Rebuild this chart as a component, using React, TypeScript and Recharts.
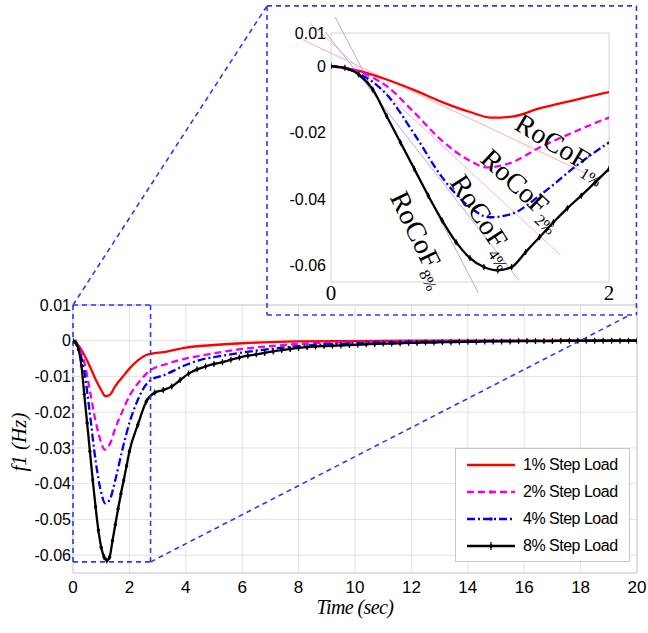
import React from 'react';
import {
  LineChart,
  Line,
  XAxis,
  YAxis,
  CartesianGrid,
  ReferenceLine,
  ReferenceArea,
  ReferenceDot,
  Legend,
} from 'recharts';

// axis ticks
const mainXTicks = [0, 2, 4, 6, 8, 10, 12, 14, 16, 18, 20];
const mainYTicks = [0.01, 0, -0.01, -0.02, -0.03, -0.04, -0.05, -0.06];
const insetXTicks = [0, 2];
const insetYTicks = [0.01, 0, -0.02, -0.04, -0.06];

const seriesNames = ['1% Step Load', '2% Step Load', '4% Step Load', '8% Step Load'];

// frequency deviation f1 (Hz) vs time (sec)
const redTime = [0, 0.2, 0.4, 0.6, 0.8, 1.0, 1.15, 1.3, 1.5, 1.75, 2.0, 2.3, 2.6, 2.8, 3.2, 4, 5, 6, 7, 8, 10, 12, 20];
const redValues = [0, -0.0014, -0.0040, -0.0072, -0.0108, -0.0138, -0.0155, -0.0152, -0.0127, -0.0102, -0.0078, -0.0055, -0.0040, -0.0036, -0.0032, -0.0019, -0.0012, -0.0007, -0.0004, -0.0002, -0.0001, 0, 0];

const magentaTime = [0, 0.2, 0.4, 0.6, 0.8, 1.0, 1.12, 1.3, 1.5, 1.75, 2.0, 2.4, 2.75, 3.2, 4, 4.5, 5, 6, 7, 8, 10, 12, 20];
const magentaValues = [0, -0.0016, -0.0060, -0.0140, -0.0225, -0.0285, -0.0305, -0.0290, -0.0245, -0.0198, -0.0155, -0.0110, -0.0082, -0.0068, -0.0050, -0.0042, -0.0035, -0.0023, -0.0015, -0.0009, -0.0004, -0.0001, 0];

const blueTime = [0, 0.2, 0.4, 0.6, 0.8, 1.0, 1.14, 1.3, 1.5, 1.75, 2.0, 2.3, 2.6, 2.8, 3.2, 4, 4.5, 5, 6, 7, 8, 10, 12, 14, 20];
const blueValues = [0, -0.0022, -0.0085, -0.0205, -0.0335, -0.0425, -0.0455, -0.0445, -0.0390, -0.0305, -0.0230, -0.0165, -0.0122, -0.0108, -0.0097, -0.0068, -0.0054, -0.0046, -0.0033, -0.0023, -0.0015, -0.0007, -0.0003, -0.0001, 0];

const blackTime = [
  0, 0.1, 0.2, 0.3, 0.4, 0.5, 0.6, 0.7, 0.8, 0.9, 1.0, 1.1, 1.2, 1.3, 1.4, 1.5, 1.6, 1.7, 1.8, 1.9, 2.0,
  2.3, 2.6, 2.9, 3.2, 3.5, 3.8, 4.1, 4.4, 4.7, 5.0, 5.3, 5.6, 5.9, 6.2, 6.5, 6.8, 7.1, 7.4, 7.7, 8.0,
  8.3, 8.6, 8.9, 9.2, 9.5, 9.8, 10.1, 10.4, 10.7, 11.0, 11.3, 11.6, 11.9, 12.2, 12.5, 12.8, 13.1, 13.4, 13.7, 14.0,
  14.3, 14.6, 14.9, 15.2, 15.5, 15.8, 16.1, 16.4, 16.7, 17.0, 17.3, 17.6, 17.9, 18.2, 18.5, 18.8, 19.1, 19.4, 19.7, 20.0,
];
const blackValues = [
  0, -0.0005, -0.0025, -0.0070, -0.0150, -0.0230, -0.0310, -0.0390, -0.0465, -0.0530, -0.0578, -0.0605, -0.0615, -0.0605, -0.0560, -0.0515, -0.0470, -0.0428, -0.0390, -0.0350, -0.0310,
  -0.0235, -0.0170, -0.0145, -0.0138, -0.0128, -0.0110, -0.0092, -0.0080, -0.0072, -0.0065, -0.0060, -0.0053, -0.0047, -0.0042, -0.0038, -0.0034, -0.0030, -0.0026, -0.0023, -0.0020,
  -0.0018, -0.0016, -0.0015, -0.0014, -0.0013, -0.0012, -0.0011, -0.0010, -0.0009, -0.0008, -0.0008, -0.0007, -0.0006, -0.0006, -0.0005, -0.0005, -0.0004, -0.0004, -0.0003, -0.0003,
  -0.0003, -0.0002, -0.0002, -0.0002, -0.0002, -0.0001, -0.0001, -0.0001, -0.0001, -0.0001, 0, 0, 0, 0, 0, 0, 0, 0, 0, 0,
];

// RoCoF tangent lines in the zoomed view: [x1, y1, x2, y2]
const rocofLines = [
  [-0.2, 0.0079, 1.83, -0.0322],
  [-0.15, 0.013, 1.65, -0.0569],
  [-0.04, 0.0103, 1.35, -0.0644],
  [0.03, 0.0148, 1.06, -0.0683],
];
const rocofSubs = ['1%', '2%', '4%', '8%'];
const rocofLabelAt = [
  [1.31, -0.0188],
  [1.065, -0.0285],
  [0.85, -0.0350],
  [0.42, -0.0395],
];

const colors = ['#ff0000', '#ee00ee', '#0000ee', '#000000'];
const dashes = [undefined, '7 4', '8 3 2 3', undefined];
const tangentColors = ['#f7b0b0', '#f2b0f2', '#b0b0f4', '#b4b4b4'];
const labelAngles = [31, 43, 57, 64];

const zip = (t: number[], v: number[]) => t.map((x, i) => ({ t: x, v: v[i] }));
const series = [
  zip(redTime, redValues),
  zip(magentaTime, magentaValues),
  zip(blueTime, blueValues),
  zip(blackTime, blackValues),
];

const fmtY = (v: number) => (Math.abs(v) < 1e-9 ? '0' : v.toFixed(2));

const MarkDot = (props: any) => {
  const { cx, cy, index } = props;
  if (cx == null || cy == null) return <g key={`e${index}`} />;
  return (
    <g key={`d${index}`}>
      <line x1={cx} x2={cx} y1={cy - 3} y2={cy + 3} stroke="#000" strokeWidth={1.2} />
      <circle cx={cx} cy={cy} r={1.7} fill="#000" />
    </g>
  );
};

const narrow = "'Liberation Sans Narrow', 'Liberation Sans', Arial, sans-serif";
const serif = "'Liberation Serif', 'Times New Roman', serif";
const zoomBlue = '#2d3ce8';

const LegendBox = () => (
  <div
    style={{
      width: 175,
      height: 114,
      border: '1px solid #c8c8c8',
      background: '#fff',
      boxSizing: 'border-box',
      paddingTop: 2,
      fontFamily: "'Liberation Sans', Arial, sans-serif",
      fontSize: 16,
      letterSpacing: -0.5,
      color: '#000',
    }}
  >
    {seriesNames.map((name, i) => (
      <div key={name} style={{ display: 'flex', alignItems: 'center', height: 27 }}>
        <svg width={67} height={12} style={{ flex: 'none' }}>
          <line x1={11} x2={59} y1={6} y2={6} stroke={colors[i]} strokeWidth={2.4} strokeDasharray={dashes[i]} />
          {i > 0 && <circle cx={35} cy={6} r={1.8} fill={colors[i]} />}
          {i === 3 && <line x1={35} x2={35} y1={2} y2={10} stroke="#000" strokeWidth={1.2} />}
        </svg>
        <span>{name}</span>
      </div>
    ))}
  </div>
);

const dashed = { stroke: zoomBlue, strokeWidth: 1.6, strokeDasharray: '5 4', ifOverflow: 'visible' as const };

export default function App() {
  return (
    <div style={{ position: 'absolute', left: 0, top: 0, width: 648, height: 633, background: '#fff' }}>
      <div style={{ position: 'absolute', left: 0, top: 0 }}>
        <LineChart width={648} height={633} margin={{ top: 305, right: 11, bottom: 30, left: 0 }}>
          <CartesianGrid stroke="#e2e2e2" strokeWidth={1} />
          <XAxis
            dataKey="t"
            type="number"
            domain={[0, 20]}
            ticks={mainXTicks}
            allowDataOverflow
            axisLine={false}
            tickLine={false}
            tickSize={0}
            tickMargin={8}
            height={30}
            tick={{ fontSize: 17, fill: '#000', fontFamily: "'Liberation Sans', Arial, sans-serif" }}
          />
          <YAxis
            type="number"
            domain={[-0.065, 0.01]}
            ticks={mainYTicks}
            allowDataOverflow
            axisLine={false}
            tickLine={false}
            tickSize={0}
            tickMargin={2}
            width={73}
            tickFormatter={fmtY}
            tick={{ fontSize: 16, fill: '#000', fontFamily: narrow }}
          />
          <ReferenceArea x1={0} x2={20} y1={-0.065} y2={0.01} fill="none" stroke="#cfcfcf" strokeWidth={1} />
          {series.map((d, i) => (
            <Line
              key={seriesNames[i]}
              data={d}
              dataKey="v"
              name={seriesNames[i]}
              type="monotone"
              stroke={colors[i]}
              strokeWidth={2.3}
              strokeDasharray={dashes[i]}
              dot={i === 3 ? MarkDot : false}
              activeDot={false}
              isAnimationActive={false}
            />
          ))}
          {/* zoom window and connectors */}
          <ReferenceLine segment={[{ x: 0, y: 0.01 }, { x: 2.75, y: 0.01 }]} {...dashed} />
          <ReferenceLine segment={[{ x: 2.75, y: 0.01 }, { x: 2.75, y: -0.0619 }]} {...dashed} />
          <ReferenceLine segment={[{ x: 0, y: -0.0619 }, { x: 2.75, y: -0.0619 }]} {...dashed} />
          <ReferenceLine segment={[{ x: 0, y: 0.01 }, { x: 0, y: -0.0619 }]} {...dashed} />
          <ReferenceLine segment={[{ x: 0, y: 0.01 }, { x: 6.88, y: 0.0937 }]} {...dashed} />
          <ReferenceLine segment={[{ x: 2.75, y: -0.0619 }, { x: 19.75, y: 0.0072 }]} {...dashed} />
          {/* inset frame */}
          <ReferenceLine segment={[{ x: 6.88, y: 0.0937 }, { x: 19.98, y: 0.0937 }]} {...dashed} />
          <ReferenceLine segment={[{ x: 19.98, y: 0.0937 }, { x: 19.98, y: 0.0072 }]} {...dashed} />
          <ReferenceLine segment={[{ x: 6.88, y: 0.0072 }, { x: 19.98, y: 0.0072 }]} {...dashed} />
          <ReferenceLine segment={[{ x: 6.88, y: 0.0937 }, { x: 6.88, y: 0.0072 }]} {...dashed} />
          <Legend
            layout="horizontal"
            verticalAlign="middle"
            align="center"
            content={() => <LegendBox />}
            wrapperStyle={{ position: 'absolute', left: 455, top: 448, width: 175, height: 114 }}
          />
        </LineChart>
      </div>

      {/* zoomed view of the first 2 s */}
      <div style={{ position: 'absolute', left: 268, top: 6 }}>
        <LineChart width={369} height={309} margin={{ top: 27, right: 28, bottom: 3, left: 0 }}>
          <XAxis
            dataKey="t"
            type="number"
            domain={[0, 2]}
            ticks={insetXTicks}
            allowDataOverflow
            axisLine={false}
            tickLine={false}
            tickSize={0}
            tickMargin={3}
            height={30}
            tick={{ fontSize: 21, fill: '#000', fontFamily: serif }}
          />
          <YAxis
            type="number"
            domain={[-0.065, 0.01]}
            ticks={insetYTicks}
            allowDataOverflow
            axisLine={false}
            tickLine={false}
            tickSize={0}
            tickMargin={5}
            width={63}
            tickFormatter={fmtY}
            tick={{ fontSize: 16, fill: '#000', fontFamily: narrow }}
          />
          <ReferenceArea x1={0} x2={2} y1={-0.065} y2={0.01} fill="none" stroke="#d4d4d4" strokeWidth={1} />
          {rocofLines.map((l, i) => (
            <ReferenceLine
              key={`tan${i}`}
              segment={[{ x: l[0], y: l[1] }, { x: l[2], y: l[3] }]}
              stroke={tangentColors[i]}
              strokeWidth={1}
              ifOverflow="visible"
            />
          ))}
          {series.map((d, i) => (
            <Line
              key={seriesNames[i]}
              data={d}
              dataKey="v"
              name={seriesNames[i]}
              type="monotone"
              stroke={colors[i]}
              strokeWidth={2.3}
              strokeDasharray={dashes[i]}
              dot={i === 3 ? MarkDot : false}
              activeDot={false}
              isAnimationActive={false}
            />
          ))}
          {rocofLabelAt.map((p, i) => (
            <ReferenceDot
              key={`lab${i}`}
              x={p[0]}
              y={p[1]}
              r={0}
              ifOverflow="visible"
              shape={(s: any) => (
                <text
                  x={s.cx}
                  y={s.cy}
                  transform={`rotate(${labelAngles[i]} ${s.cx} ${s.cy})`}
                  fontFamily={serif}
                  fontSize={28}
                  fill="#000"
                >
                  RoCoF
                  <tspan fontSize={16} dy={7}>
                    {rocofSubs[i]}
                  </tspan>
                </text>
              )}
            />
          ))}
        </LineChart>
      </div>

      {/* axis titles */}
      <div
        style={{
          position: 'absolute',
          left: 19,
          top: 442,
          transform: 'translate(-50%, -50%) rotate(-90deg)',
          fontFamily: serif,
          fontStyle: 'italic',
          fontSize: 21,
          whiteSpace: 'nowrap',
          color: '#000',
        }}
      >
        f1 (Hz)
      </div>
      <div
        style={{
          position: 'absolute',
          left: 355,
          top: 607,
          transform: 'translate(-50%, -50%)',
          fontFamily: serif,
          fontStyle: 'italic',
          fontSize: 20,
          letterSpacing: -0.6,
          whiteSpace: 'nowrap',
          color: '#000',
        }}
      >
        Time (sec)
      </div>
    </div>
  );
}
